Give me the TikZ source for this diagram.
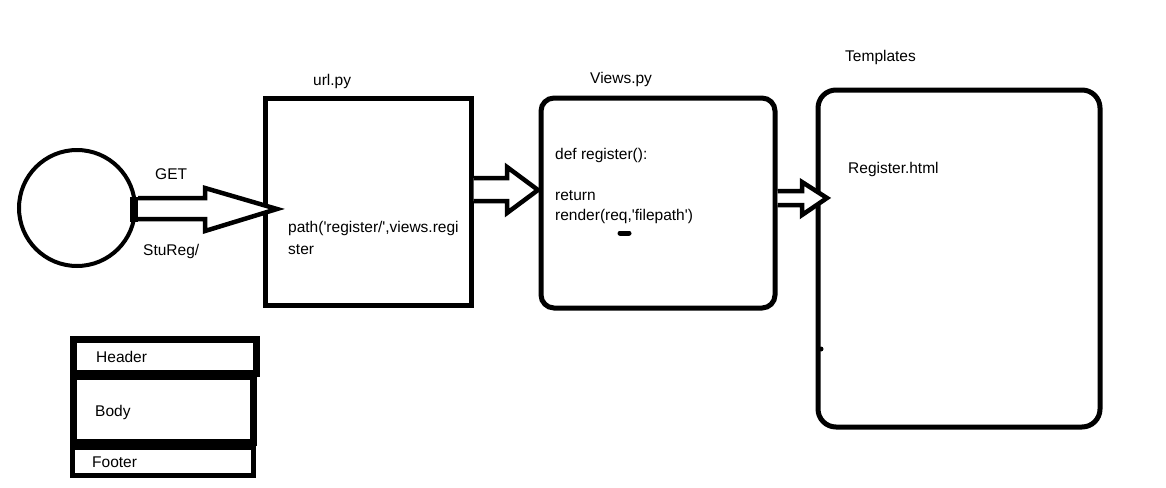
\documentclass[tikz,border=0pt]{standalone}
\usepackage{fontspec}
\setmainfont{Liberation Sans}
\newcommand{\sq}{\textquotesingle}
\begin{document}
\begin{tikzpicture}[x=1pt,y=-1pt,
  lbl/.style={anchor=west,inner sep=0pt,font=\fontsize{15.5}{18}\selectfont},
  box/.style={draw,line width=5pt,inner sep=0pt},
  blockarrow/.style={draw,line width=4.5pt,line join=miter,fill=white},
  hbox/.style={draw,line width=7pt,inner sep=0pt},
]
\useasboundingbox (0,0) rectangle (1166,487);
% client circle
\node[draw,circle,line width=4pt,minimum size=116pt,inner sep=0pt] (client) at (77,208) {};
\node[fill=black,inner sep=0pt,minimum width=8pt,minimum height=25pt] (plug) at (134,209.5) {};
% boxes
\node[box,minimum width=206pt,minimum height=207pt] (url) at (368,201.5) {};
\node[box,rounded corners=13pt,minimum width=234pt,minimum height=210pt] (views) at (658,203) {};
\node[box,rounded corners=18pt,minimum width=282pt,minimum height=337pt] (tmpl) at (959,258.5) {};
% arrows
\draw[blockarrow] (plug.east |- 0,198) -- (205,198) -- (205,188) -- (277,209) -- (205,231) -- (205,219) -- (plug.east |- 0,219);
\draw[blockarrow] (url.east |- 0,178) -- (507,178) -- (507,167) -- (538,190) -- (507,213) -- (507,201) -- (url.east |- 0,201);
\draw[blockarrow] (views.east |- 0,191) -- (802,191) -- (802,182) -- (827,198) -- (802,215) -- (802,205) -- (views.east |- 0,205);
% labels
\node[lbl] (get) at (155,174) {GET};
\node[lbl] (stureg) at (143,251) {StuReg/};
\node[lbl] (urlt) at (313,81) {url.py};
\node[lbl] (viewst) at (590,79) {Views.py};
\node[lbl] (tmplt) at (845,57) {Templates};
\node[lbl] (path1) at (288,228) {path(\sq register/\sq,views.regi};
\node[lbl] (path2) at (288,250) {ster};
\node[lbl] (def) at (555,155) {def register():};
\node[lbl] (ret) at (555,196) {return};
\node[lbl] (rend) at (555,216) {render(req,\sq filepath\sq)};
\node[lbl] (reg) at (848,169) {Register.html};
% marks
\draw[line width=5pt,line cap=round] (620,233) -- (629,233);
\fill (821,349) circle (2.5pt);
% layout boxes
\node[hbox,minimum width=183pt,minimum height=34pt] (header) at (164.5,356) {};
\node[hbox,minimum width=180pt,minimum height=66pt] (body) at (163,409) {};
\node[draw,line width=5pt,minimum width=181pt,minimum height=28pt,inner sep=0pt] (footer) at (162.5,461) {};
\node[lbl] (ht) at (96,357) {Header};
\node[lbl] (bt) at (95,412) {Body};
\node[lbl] (ft) at (92,462) {Footer};
\end{tikzpicture}
\end{document}
